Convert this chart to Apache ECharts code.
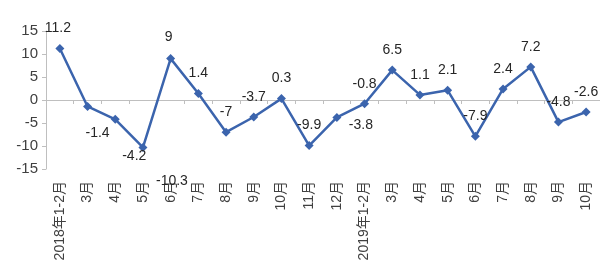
<!DOCTYPE html>
<html><head><meta charset="utf-8">
<script src="https://cdn.jsdelivr.net/npm/echarts@6/dist/echarts.min.js"></script>
<style>html,body{margin:0;padding:0;background:#fff}#c{width:600px;height:280px}</style>
</head><body><div id="c"></div>
<script>
const categories = ['2018年1-2月','3月','4月','5月','6月','7月','8月','9月','10月','11月','12月','2019年1-2月','3月','4月','5月','6月','7月','8月','9月','10月'];
const values = [11.2, -1.4, -4.2, -10.3, 9, 1.4, -7, -3.7, 0.3, -9.9, -3.8, -0.8, 6.5, 1.1, 2.1, -7.9, 2.4, 7.2, -4.8, -2.6];
const yTicks = { min: -15, max: 15, interval: 5 };

// label placement (style only)
const labelOffsets = {0:[-2,-20],1:[10,27],2:[19,37],3:[29,34],4:[-2,-21],10:[24,8]};

const font = '"Liberation Sans", Arial, "Noto Sans CJK SC", sans-serif';
const seriesData = values.map((v, i) => ({
  value: v,
  label: { offset: labelOffsets[i] || [0, -20] }
}));

const chart = echarts.init(document.getElementById('c'));
chart.setOption({
  animation: false,
  grid: { left: 46, width: 556, top: 31, bottom: 111, containLabel: false },
  xAxis: [
    { type: 'category', data: categories, position: 'bottom', boundaryGap: true,
      axisLine: { show: false, onZero: false }, axisTick: { show: false },
      axisLabel: { rotate: 90, margin: 12, fontSize: 14, color: '#404040', fontFamily: font, interval: 0 } },
    { type: 'category', data: categories, position: 'bottom', boundaryGap: true,
      axisLine: { show: true, onZero: true, lineStyle: { color: '#bfbfbf', width: 1 } },
      axisTick: { show: true, length: 4, interval: 0, lineStyle: { color: '#bfbfbf' } },
      axisLabel: { show: false } }
  ],
  yAxis: {
    type: 'value', min: yTicks.min, max: yTicks.max, interval: yTicks.interval,
    axisLine: { show: true, onZero: false, lineStyle: { color: '#bfbfbf' } },
    axisTick: { show: true, length: 4, lineStyle: { color: '#bfbfbf' } },
    splitLine: { show: false },
    axisLabel: { fontSize: 15, color: '#404040', fontFamily: font, margin: 8 }
  },
  series: [{
    type: 'line', xAxisIndex: 0, data: seriesData,
    symbol: 'diamond', symbolSize: 9,
    lineStyle: { color: '#3b64ad', width: 2.5 },
    itemStyle: { color: '#3b64ad' },
    label: { show: true, position: 'inside', fontSize: 14, color: '#262626', fontFamily: font }
  }]
});
</script></body></html>
